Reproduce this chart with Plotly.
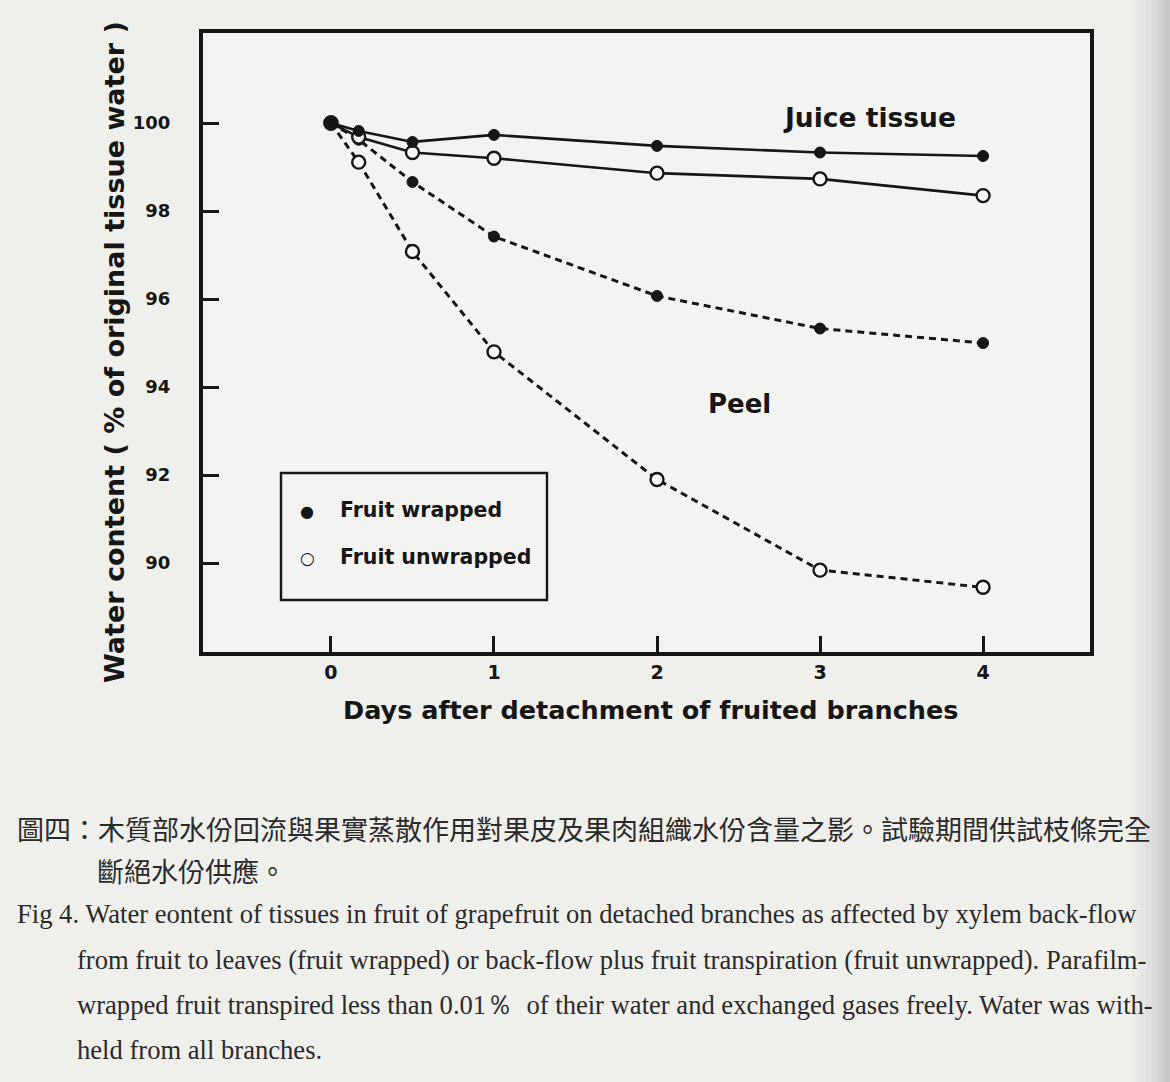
import plotly.graph_objects as go

# Days after detachment of the fruited branches (0.17 d = 4 h, 0.5 d = 12 h)
days = [0, 0.17, 0.5, 1, 2, 3, 4]

# Water content, % of original tissue water
juice_wrapped = [100, 99.82, 99.57, 99.73, 99.48, 99.33, 99.25]
juice_unwrapped = [100, 99.68, 99.33, 99.2, 98.86, 98.73, 98.35]
peel_wrapped = [100, 99.62, 98.66, 97.42, 96.07, 95.33, 95.0]
peel_unwrapped = [100, 99.11, 97.08, 94.8, 91.9, 89.84, 89.45]

x_ticks = [0, 1, 2, 3, 4]
y_ticks = [90, 92, 94, 96, 98, 100]

INK = "#161616"
W, H = 1170, 1082
ML, MR, MT, MB = 203, 80, 33, 430
PW, PH = W - ML - MR, H - MT - MB


def px(x):
    return (x - ML) / PW


def py(y):
    return (H - MB - y) / PH


fig = go.Figure()

solid = dict(color=INK, width=2.6)
dashed = dict(color=INK, width=3, dash="7px,5px")
filled = dict(symbol="circle", size=11, color=INK, line=dict(color=INK, width=1))
hollow = dict(symbol="circle", size=13, color="#f6f6f4", line=dict(color=INK, width=2.4))

fig.add_trace(go.Scatter(x=days, y=peel_unwrapped, mode="lines+markers", line=dashed,
                         marker=hollow, name="Peel, fruit unwrapped"))
fig.add_trace(go.Scatter(x=days, y=peel_wrapped, mode="lines+markers", line=dashed,
                         marker=filled, name="Peel, fruit wrapped"))
fig.add_trace(go.Scatter(x=days, y=juice_unwrapped, mode="lines+markers", line=solid,
                         marker=hollow, name="Juice tissue, fruit unwrapped"))
fig.add_trace(go.Scatter(x=days, y=juice_wrapped, mode="lines+markers", line=solid,
                         marker=filled, name="Juice tissue, fruit wrapped"))

sans = "DejaVu Sans"

fig.update_xaxes(
    range=[-0.785, 4.656], tickvals=x_ticks, ticktext=[str(v) for v in x_ticks],
    ticks="inside", ticklen=16, tickwidth=2.6, tickcolor=INK,
    showline=True, linewidth=4, linecolor=INK, mirror=True,
    showgrid=False, zeroline=False,
    tickfont=dict(family=sans, size=19, color=INK, weight="bold"),
)
fig.update_yaxes(
    range=[87.98, 102.045], tickvals=y_ticks, ticktext=[str(v) for v in y_ticks],
    ticks="inside", ticklen=16, tickwidth=2.6, tickcolor=INK,
    showline=True, linewidth=4, linecolor=INK, mirror=True,
    showgrid=False, zeroline=False, ticklabelstandoff=25,
    tickfont=dict(family=sans, size=18, color=INK, weight="bold"),
)

annotations = [
    # axis titles
    dict(x=px(115), y=py(352), text="Water content ( % of original tissue water )",
         textangle=-90, font=dict(family=sans, size=27, color=INK, weight="bold")),
    dict(x=px(650), y=py(710), text="Days after detachment of fruited branches",
         font=dict(family=sans, size=25.5, color=INK, weight="bold")),
    # curve group labels
    dict(x=px(869), y=py(118), text="Juice tissue",
         font=dict(family=sans, size=26.5, color=INK, weight="bold")),
    dict(x=px(739), y=py(404), text="Peel",
         font=dict(family=sans, size=26, color=INK, weight="bold")),
    # key
    dict(x=px(307), y=py(511), text="●", font=dict(family=sans, size=16, color=INK)),
    dict(x=px(307), y=py(558), text="○", font=dict(family=sans, size=17, color=INK, weight="bold")),
    dict(x=px(338), y=py(510), text="Fruit wrapped", xanchor="left",
         font=dict(family=sans, size=20.5, color=INK, weight="bold")),
    dict(x=px(338), y=py(557), text="Fruit unwrapped", xanchor="left",
         font=dict(family=sans, size=20.5, color=INK, weight="bold")),
]

cjk = "Noto Sans CJK TC"
serif = "Liberation Serif"
cap_color = "#2a2a2a"
caption = [
    (15, 828, "圖四：木質部水份回流與果實蒸散作用對果皮及果肉組織水份含量之影。試驗期間供試枝條完全", cjk, 27),
    (95, 870, "斷絕水份供應。", cjk, 27),
    (15, 914, "Fig 4. Water eontent of tissues in fruit of grapefruit on detached branches as affected by xylem back-flow", serif, 26.6),
    (75, 960, "from fruit to leaves (fruit wrapped) or back-flow plus fruit transpiration (fruit unwrapped). Parafilm-", serif, 26.6),
    (75, 1005, "wrapped fruit transpired less than 0.01％  of their water and exchanged gases freely. Water was with-", serif, 26.6),
    (75, 1050, "held from all branches.", serif, 26.6),
]
for x0, y0, txt, fam, size in caption:
    annotations.append(dict(x=px(x0), y=py(y0), text=txt, xanchor="left",
                            font=dict(family=fam, size=size, color=cap_color)))

for a in annotations:
    a.setdefault("xanchor", "center")
    a.update(xref="paper", yref="paper", yanchor="middle", showarrow=False)

shapes = [
    dict(type="rect", xref="paper", yref="paper", x0=px(281), x1=px(547), y0=py(473), y1=py(600),
         line=dict(color=INK, width=2.4), fillcolor="rgba(0,0,0,0)", layer="above"),
]
# darkened page edge along the right side
edge = [(1132, 1140), (1140, 1146), (1146, 1152), (1152, 1157), (1157, 1162), (1162, 1166), (1166, 1171)]
for i, (a, b) in enumerate(edge):
    shapes.append(dict(type="rect", xref="paper", yref="paper", x0=px(a), x1=px(b),
                       y0=py(H), y1=py(0), line=dict(width=0),
                       fillcolor="rgba(140,140,140,%.2f)" % (0.04 + 0.06 * i), layer="above"))

fig.update_layout(
    width=W, height=H,
    margin=dict(l=ML, r=MR, t=MT, b=MB),
    paper_bgcolor="#efefec", plot_bgcolor="#f3f3f1",
    showlegend=False,
    annotations=annotations, shapes=shapes,
)

fig.write_html("out.html")
